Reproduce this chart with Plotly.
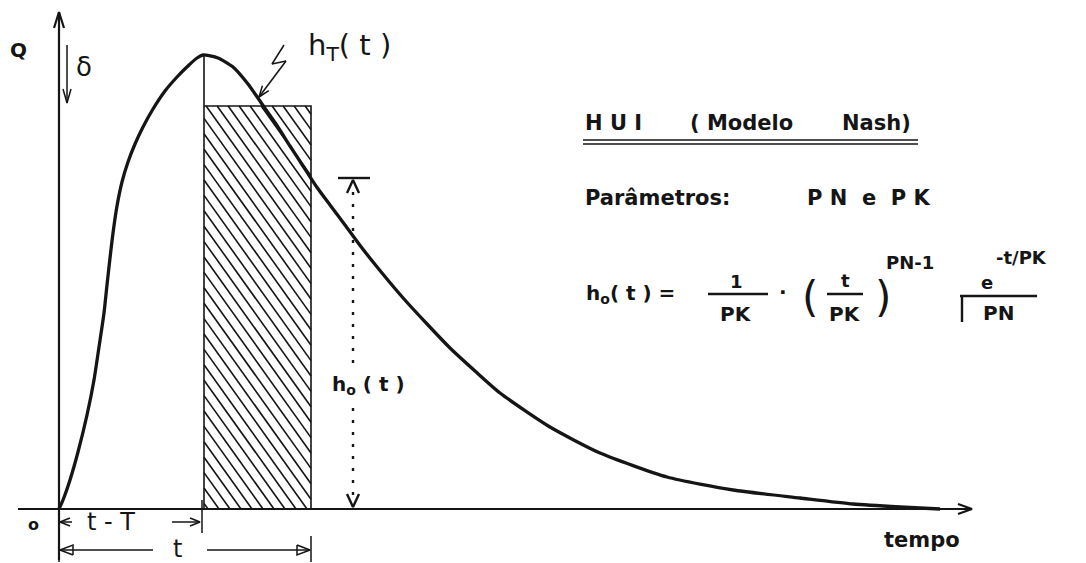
import numpy as np
import plotly.graph_objects as go

# Hidrograma unitário instantâneo (modelo de Nash): ordenadas do traçado
tempo = [0, 4, 11, 19, 28, 35, 40, 45, 48, 51, 54, 58, 63, 69, 76, 84, 94, 106, 118, 130,
         138, 144, 159, 174, 189, 203, 217, 231, 244, 257, 271, 286, 303, 323, 345, 369,
         391, 416, 441, 491, 541, 608, 674, 741, 794, 841, 881]
vazao = [0, 9, 29, 57, 94, 129, 162, 196, 224, 251, 276, 303, 327, 347, 365, 382, 400, 418,
         432, 444, 451, 454, 451, 442, 425, 405, 385, 363, 343, 323, 304, 284, 261, 236, 210,
         184, 161, 138, 116, 82, 56, 32, 19, 11, 5, 2, 0]

# Intervalo [t-T, t] e ordenadas associadas
t_menos_T = 145
t_atual = 252
h_T = 403          # altura do bloco retangular (hidrograma de duração T)
h_o = 331          # h_o(t), ordenada do HUI no instante t

# Origem do diagrama na página (px)
X0, Y0 = 59, 509
W, H = 1086, 563
INK = "#151515"
FONT = "DejaVu Sans"


def P(px, py):
    return px - X0, Y0 - py


fig = go.Figure()
segs = {}


def seg(style, pts):
    xs, ys = segs.setdefault(style, ([], []))
    for p in pts:
        xs.append(p[0])
        ys.append(p[1])
    xs.append(None)
    ys.append(None)


def line_px(style, *pts):
    seg(style, [P(*p) for p in pts])


def head(style, tip, tail, L=12, Wd=5, closed=False):
    """Arrow head in data units, tip/tail given in data units."""
    tx, ty = tip
    dx, dy = tip[0] - tail[0], tip[1] - tail[1]
    n = np.hypot(dx, dy)
    ux, uy = dx / n, dy / n
    bx, by = tx - L * ux, ty - L * uy
    a = (bx - Wd * uy, by + Wd * ux)
    b = (bx + Wd * uy, by - Wd * ux)
    if closed:
        seg(style, [a, (tx, ty), b, a])
    else:
        seg(style, [a, (tx, ty), b])


def arrow_px(style, tail, tip, L=12, Wd=5, closed=False):
    line_px(style, tail, tip)
    head(style, P(*tip), P(*tail), L, Wd, closed)


# hachura do bloco retangular
slope = 1.4
spacing = 11.0
k = t_menos_T + 4
while k < t_atual + h_T / slope:
    v_lo = max(0.0, slope * (k - t_atual))
    v_hi = min(h_T, slope * (k - t_menos_T))
    if v_hi > v_lo:
        seg("hatch", [(k - v_lo / slope, v_lo), (k - v_hi / slope, v_hi)])
    k += spacing

# contorno do bloco e prolongamento até o pico
seg("rect", [(t_menos_T, 0), (t_menos_T, max(vazao))])
seg("rect", [(t_menos_T, h_T), (t_atual, h_T), (t_atual, 0)])

# eixos
arrow_px("axis", (18, 509), (972, 509), L=14, Wd=5)
arrow_px("axis", (59, 560), (59, 12), L=16, Wd=5)

# seta delta
arrow_px("thin", (67, 45), (67, 103), L=14, Wd=4)

# seta em zigue-zague até o ponto de h_T(t)
line_px("thin", (284, 45), (272, 64), (286, 61))
arrow_px("thin", (286, 61), (259, 97), L=11, Wd=4)

# cota h_o(t)
seg("thick", [(t_atual + 27, h_o), (t_atual + 59, h_o)])
head("thick", (t_atual + 42, h_o - 2), (t_atual + 42, h_o - 40), L=13, Wd=6)
head("thick", (t_atual + 42, 2), (t_atual + 42, 40), L=13, Wd=6)

# cotas inferiores
line_px("thin", (59, 509), (59, 562))
line_px("thin", (202, 500), (202, 533))
line_px("thin", (311, 536), (311, 562))
arrow_px("thin", (72, 522), (60, 522), L=10, Wd=4)
arrow_px("thin", (172, 522), (200, 522), L=10, Wd=4)
arrow_px("thin", (153, 550), (60, 550), L=13, Wd=5, closed=True)
arrow_px("thin", (207, 550), (310, 550), L=13, Wd=5, closed=True)

# traços do título e da fórmula
line_px("thin", (583, 140), (918, 140))
line_px("thin", (583, 144), (918, 144))
line_px("thick", (708, 294), (768, 294))
line_px("thick", (827, 294), (863, 294))
line_px("thick", (960, 296), (1037, 296))
line_px("thick", (962, 296), (962, 322))

styles = {
    "hatch": 1.6, "rect": 1.6, "axis": 2.2, "thin": 1.5, "thick": 2.4,
}
for name, (xs, ys) in segs.items():
    fig.add_trace(go.Scatter(x=xs, y=ys, mode="lines",
                             line=dict(color=INK, width=styles[name]),
                             hoverinfo="skip"))

# linha pontilhada de h_o(t)
fig.add_trace(go.Scatter(x=[t_atual + 42, t_atual + 42], y=[14, h_o - 14], mode="lines",
                         line=dict(color=INK, width=2.4, dash="3px,9px"), hoverinfo="skip"))

# curva do HUI
fig.add_trace(go.Scatter(x=tempo, y=vazao, mode="lines",
                         line=dict(color=INK, width=3.3, shape="spline", smoothing=0.6),
                         hoverinfo="skip"))

ann = []


def txt(px, py, text, size, anchor="center", bg=None):
    x, y = P(px, py)
    d = dict(x=x, y=y, xref="x", yref="y", text=text, showarrow=False,
             xanchor=anchor, yanchor="middle",
             font=dict(family=FONT, size=size, color=INK))
    if bg:
        d["bgcolor"] = bg
    ann.append(d)


txt(18, 50, "<b>Q</b>", 20)
txt(84, 67, "δ", 26)
txt(306, 47, "h<sub>T</sub>( t )", 29, anchor="left")
txt(368, 385, "<b>h<sub>o</sub> ( t )</b>", 20, bg="white")

txt(583, 123, "<b>H U I</b>", 21, anchor="left")
txt(688, 123, "<b>( Modelo</b>", 21, anchor="left")
txt(840, 123, "<b>Nash)</b>", 21, anchor="left")
txt(583, 198, "<b>Parâmetros:</b>", 21, anchor="left")
txt(805, 198, "<b>P N  e  P K</b>", 21, anchor="left")

txt(584, 294, "<b>h<sub>o</sub>( t ) =</b>", 20, anchor="left")
txt(736, 281, "<b>1</b>", 18)
txt(736, 314, "<b>PK</b>", 20)
txt(783, 292, "<b>·</b>", 20)
txt(810, 297, "(", 42)
txt(845, 280, "<b>t</b>", 18)
txt(845, 314, "<b>PK</b>", 20)
txt(883, 297, ")", 42)
txt(884, 262, "<b>PN-1</b>", 18, anchor="left")
txt(987, 282, "<b>e</b>", 18)
txt(994, 257, "<b>-t/PK</b>", 18, anchor="left")
txt(998, 313, "<b>PN</b>", 20)

txt(33, 524, "<b>o</b>", 16)
txt(111, 522, "t - T", 24)
txt(177, 549, "t", 24)
txt(922, 540, "<b>tempo</b>", 21)

x_lo, y_hi = P(0, 0)
x_hi, y_lo = P(W, H)
fig.update_layout(
    width=W, height=H, autosize=False,
    margin=dict(l=0, r=0, t=0, b=0, pad=0),
    paper_bgcolor="white", plot_bgcolor="white",
    showlegend=False,
    xaxis=dict(range=[x_lo, x_hi], visible=False, fixedrange=True),
    yaxis=dict(range=[y_lo, y_hi], visible=False, fixedrange=True),
    annotations=ann,
)
fig.write_html("out.html")
